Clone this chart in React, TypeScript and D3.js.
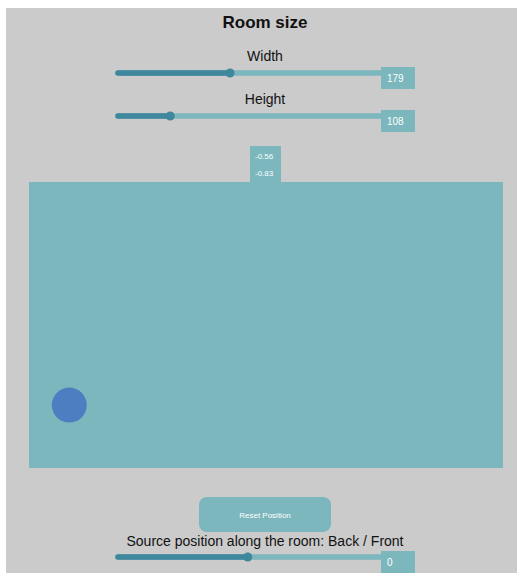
import React from "react";
import * as d3 from "d3";

const title = "Room size";
const sliderLabels = ["Width", "Height", "Source position along the room: Back / Front"];
const sliderValues = [179, 108, 0];
const sliderDomains: [number, number][] = [[0, 425], [0, 550], [-1, 1.05]];
const sourceCoords = [-0.56, -0.83]; // [y, x]
const buttonLabel = "Reset Position";

const W = 521, H = 573;
const font = "'Liberation Sans', Arial, Helvetica, sans-serif";
const bg = "#cbcbcb";
const teal = "#7bb7bd";
const dark = "#3e879c";
const dot = "#4d7ec1";

export default function App() {
  const trackX = d3.scaleLinear().domain([0, 1]).range([118, 384]);
  const sliderY = [73, 116, 557];
  const labelY = [61, 104, 546];
  const roomX = d3.scaleLinear().domain([-1, 1]).range([29, 503]);
  const roomY = d3.scaleLinear().domain([1, -1]).range([182, 468]);
  const [sy, sx] = sourceCoords;

  return (
    <svg width={W} height={H} style={{ position: "absolute", left: 0, top: 0 }}>
      <rect x={6} y={8} width={511} height={565} fill={bg} />
      <text x={265} y={28} textAnchor="middle" fontFamily={font} fontWeight="bold" fontSize={17} fill="#111">{title}</text>
      {sliderValues.map((v, i) => {
        const s = d3.scaleLinear().domain(sliderDomains[i]).range([0, 1]);
        const tx = trackX(s(v));
        const y = sliderY[i];
        return (
          <g key={i}>
            <text x={265} y={labelY[i]} textAnchor="middle" fontFamily={font} fontSize={14} fill="#111">{sliderLabels[i]}</text>
            <line x1={trackX(0)} x2={trackX(1)} y1={y} y2={y} stroke={teal} strokeWidth={5.5} strokeLinecap="round" />
            <line x1={trackX(0)} x2={tx} y1={y} y2={y} stroke={dark} strokeWidth={5.5} strokeLinecap="round" />
            <circle cx={tx} cy={y} r={4.5} fill={dark} />
            <rect x={381} y={y - 6} width={34} height={22} fill={teal} />
            <text x={387} y={y + 8.5} fontFamily={font} fontSize={10} fill="#fff">{v}</text>
          </g>
        );
      })}
      <rect x={250} y={146} width={31} height={37} fill={teal} />
      <text x={255} y={159} fontFamily={font} fontSize={8} fill="#fff">{sy.toFixed(2)}</text>
      <text x={255} y={176} fontFamily={font} fontSize={8} fill="#fff">{sx.toFixed(2)}</text>
      <rect x={roomX(-1)} y={roomY(1)} width={roomX(1) - roomX(-1)} height={roomY(-1) - roomY(1)} fill={teal} />
      <circle cx={roomX(sx)} cy={roomY(sy)} r={17.5} fill={dot} />
      <rect x={199} y={497} width={132} height={35} rx={8} fill={teal} />
      <text x={265} y={518} textAnchor="middle" fontFamily={font} fontSize={8} fill="#fff">{buttonLabel}</text>
    </svg>
  );
}
